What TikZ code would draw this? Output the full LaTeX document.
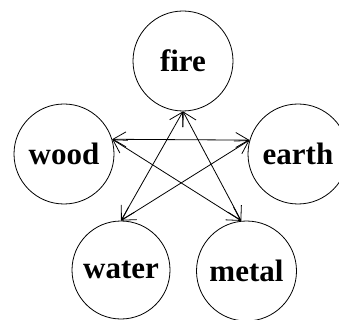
\documentclass[tikz,border=0pt]{standalone}
\usepackage{fontspec}
\setmainfont{Liberation Serif}
\usetikzlibrary{arrows.meta}
\begin{document}
\begin{tikzpicture}[x=1pt,y=-1pt,
  elem/.style={circle,draw,line width=0.8pt,minimum size=100pt,inner sep=0pt,
    font=\fontsize{31}{36}\selectfont\bfseries},
  link/.style={line width=0.8pt,{Straight Barb[length=13pt,width=15pt]}-{Straight Barb[length=13pt,width=15pt]}}]
\useasboundingbox (0,0) rectangle (339,320);
\node[elem] (fire) at (183,61) {fire};
\node[elem] (wood) at (64,154) {wood};
\node[elem] (earth) at (298,154) {earth};
\node[elem,minimum size=98pt] (water) at (121,270) {water};
\node[elem] (metal) at (246.5,271) {metal};
\draw[link] (fire.270) -- (water.90);
\draw[link] (fire.270) -- (metal.96);
\draw[link] (wood.17) -- (earth.164);
\draw[link] (wood.17) -- (metal.96);
\draw[link] (earth.164) -- (water.90);
\end{tikzpicture}
\end{document}
